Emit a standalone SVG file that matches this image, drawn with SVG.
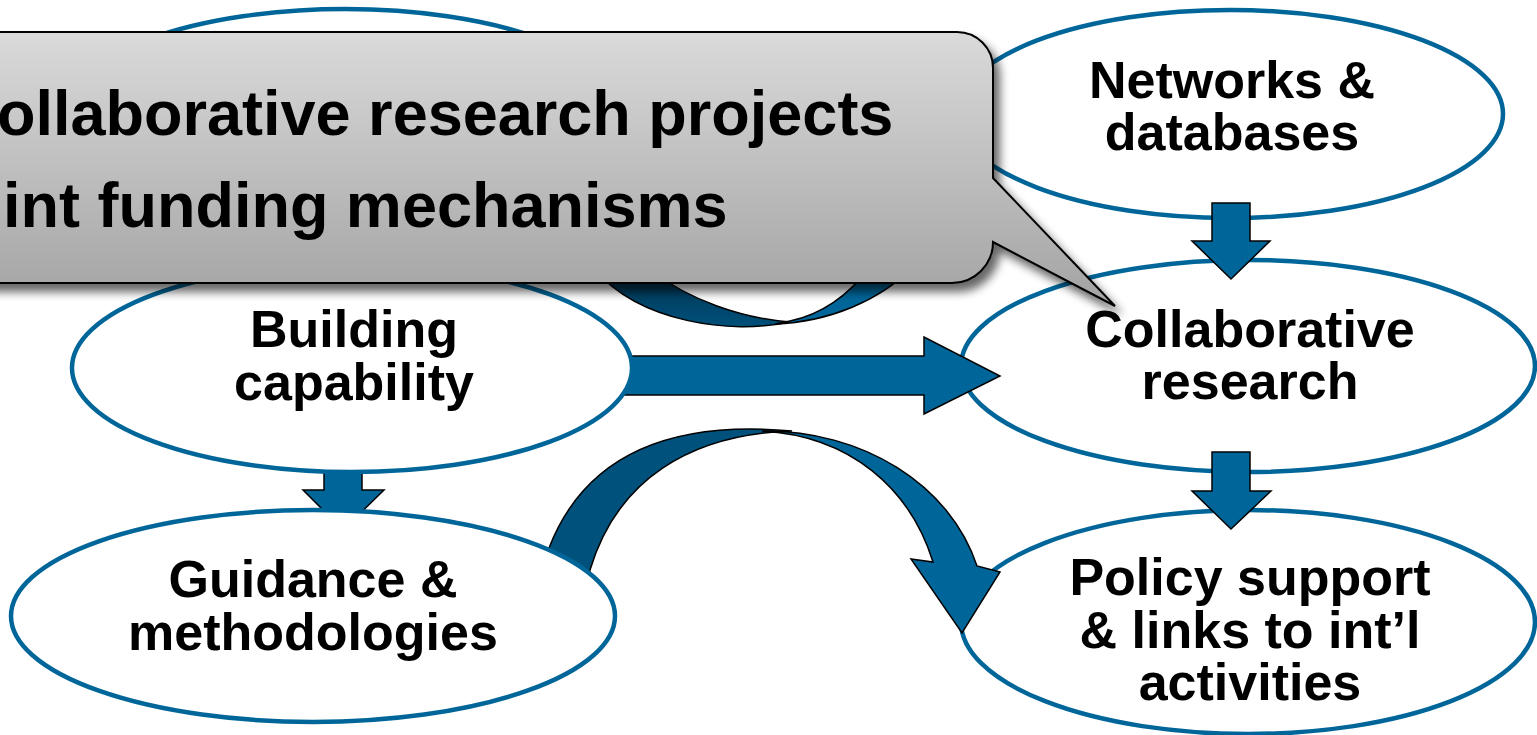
<svg xmlns="http://www.w3.org/2000/svg" width="1537" height="735" viewBox="0 0 1537 735">
  <style>
    .node ellipse { fill: #ffffff; stroke: #006699; stroke-width: 4.5; }
    .node text { font-family: "Liberation Sans", Arial, sans-serif; font-weight: bold; font-size: 52px; fill: #000000; text-anchor: middle; }
    .arrow { fill: #006699; stroke: #000000; stroke-width: 1.5; stroke-linejoin: miter; }
    .arrow-back { fill: #00527d; stroke: #000000; stroke-width: 1.5; }
    .callout-text { font-family: "Liberation Sans", Arial, sans-serif; font-weight: bold; font-size: 63px; fill: #000000; }
  </style>
  <defs>
    <linearGradient id="calloutFill" gradientUnits="userSpaceOnUse" x1="0" y1="32" x2="0" y2="306">
      <stop offset="0" stop-color="#dadada"/>
      <stop offset="1" stop-color="#a3a3a3"/>
    </linearGradient>
    <linearGradient id="backGrad" gradientUnits="userSpaceOnUse" x1="0" y1="270" x2="0" y2="330">
      <stop offset="0" stop-color="#00324f"/>
      <stop offset="1" stop-color="#00527d"/>
    </linearGradient>
    <filter id="shadow" x="-5%" y="-10%" width="115%" height="135%">
      <feGaussianBlur in="SourceAlpha" stdDeviation="5"/>
      <feOffset dx="6" dy="8" result="off"/>
      <feComponentTransfer>
        <feFuncA type="linear" slope="0.6"/>
      </feComponentTransfer>
      <feMerge>
        <feMergeNode/>
        <feMergeNode in="SourceGraphic"/>
      </feMerge>
    </filter>
  </defs>

  <rect x="0" y="0" width="1537" height="735" fill="#ffffff"/>

  <!-- right column nodes -->
  <g id="node-networks" class="node">
    <ellipse cx="1230" cy="114" rx="273" ry="104"/>
    <text x="1232" y="98">Networks &amp;</text>
    <text x="1232" y="150">databases</text>
  </g>
  <g id="node-collaborative" class="node">
    <ellipse cx="1248" cy="366" rx="287" ry="106"/>
    <text x="1250" y="347">Collaborative</text>
    <text x="1250" y="399">research</text>
  </g>
  <g id="node-policy" class="node">
    <ellipse cx="1248" cy="622" rx="287" ry="112"/>
    <text x="1250" y="595">Policy support</text>
    <text x="1250" y="648">&amp; links to int’l</text>
    <text x="1250" y="700">activities</text>
  </g>

  <!-- connectors -->
  <g id="connectors">
    <!-- curved arrow under callout -->
    <path class="arrow-back" style="fill:url(#backGrad)" d="M 595 270 C 640 322 730 335 790 322 C 740 318 690 300 650 270 Z"/>
    <path class="arrow" d="M 775 324 C 830 322 880 300 912 268 L 868 268 C 850 295 820 315 790 321 Z"/>
    <!-- Networks -> Collaborative -->
    <polygon class="arrow" points="1212,203 1250,203 1250,241 1270,241 1231,279 1192,241 1212,241"/>
    <!-- Collaborative -> Policy -->
    <polygon class="arrow" points="1212,452 1250,452 1250,491 1271,491 1231,529 1192,491 1212,491"/>
    <!-- Building -> Collaborative -->
    <polygon class="arrow" points="600,356 924,356 924,337 1000,376 924,414 924,395 600,395"/>
    <!-- Building -> Guidance -->
    <polygon class="arrow" points="324,440 362,440 362,490 384,490 343,530 303,490 324,490"/>
    <!-- Guidance -> Policy curved -->
    <path class="arrow-back" d="M 540 590 L 549 548 C 585 455 670 420 792 431 C 690 434 617 480 590 570 L 586 600 Z"/>
    <path class="arrow" d="M 762 431 C 862 430 950 484 977 566 L 1000 572 L 962 633 L 911 559 L 933 562 C 910 488 850 436 762 431 Z"/>
  </g>

  <!-- left column nodes -->
  <g id="node-top-left" class="node">
    <ellipse cx="345" cy="112" rx="278" ry="103"/>
  </g>
  <g id="node-building" class="node">
    <ellipse cx="352" cy="368" rx="280" ry="104"/>
    <text x="354" y="347">Building</text>
    <text x="354" y="400">capability</text>
  </g>
  <g id="node-guidance" class="node">
    <ellipse cx="313" cy="616" rx="302" ry="106"/>
    <text x="313" y="597">Guidance &amp;</text>
    <text x="313" y="650">methodologies</text>
  </g>

  <!-- callout -->
  <g id="callout">
    <path d="M -40 32 H 957 A 36 36 0 0 1 993 68 V 178 L 1115 306 L 993 242 A 41 41 0 0 1 952 283 H -40 Z" fill="url(#calloutFill)" stroke="#000000" stroke-width="2" filter="url(#shadow)"/>
    <text class="callout-text" x="-3" y="135">ollaborative research projects</text>
    <text class="callout-text" x="3" y="227">int funding mechanisms</text>
  </g>
</svg>
